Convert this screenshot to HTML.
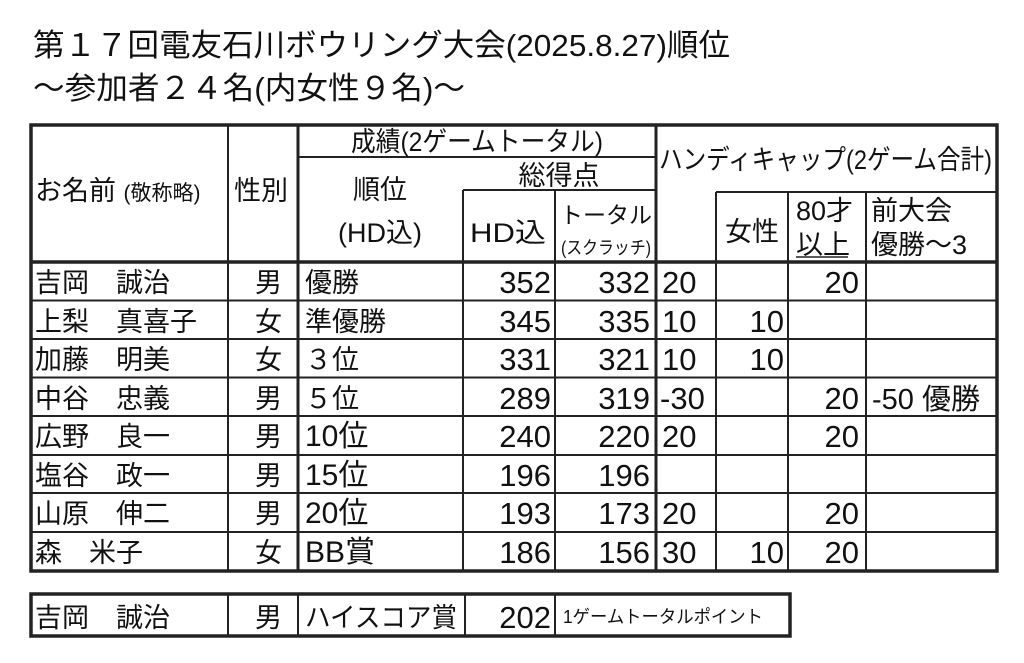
<!DOCTYPE html>
<html><head><meta charset="utf-8"><style>
html,body{margin:0;padding:0;background:#fff;}
svg{display:block}
text{font-family:"Liberation Sans","Noto Sans CJK JP",sans-serif;fill:#111;}
</style></head><body>
<svg width="1024" height="663" viewBox="0 0 1024 663" xmlns="http://www.w3.org/2000/svg">
<rect width="1024" height="663" fill="#fff"/>
<text x="33" y="56" font-size="31" textLength="697" lengthAdjust="spacingAndGlyphs">第１７回電友石川ボウリング大会(2025.8.27)順位</text>
<text x="33" y="99" font-size="31" textLength="432" lengthAdjust="spacingAndGlyphs">～参加者２４名(内女性９名)～</text>

<g stroke="#222" fill="none">
<rect x="31" y="125" width="966" height="446" stroke-width="3.5"/>
<line x1="228" y1="125" x2="228" y2="571" stroke-width="2"/>
<line x1="298" y1="125" x2="298" y2="571" stroke-width="3"/>
<line x1="463" y1="190" x2="463" y2="571" stroke-width="2"/>
<line x1="555" y1="190" x2="555" y2="571" stroke-width="2"/>
<line x1="656" y1="125" x2="656" y2="571" stroke-width="3"/>
<line x1="716" y1="192" x2="716" y2="571" stroke-width="2"/>
<line x1="788" y1="192" x2="788" y2="571" stroke-width="2"/>
<line x1="866" y1="192" x2="866" y2="571" stroke-width="2"/>
<line x1="298" y1="157" x2="656" y2="157" stroke-width="2"/>
<line x1="463" y1="190" x2="656" y2="190" stroke-width="2"/>
<line x1="716" y1="192" x2="997" y2="192" stroke-width="2"/>
<line x1="31" y1="262" x2="997" y2="262" stroke-width="3.5"/>
<line x1="31" y1="300.5" x2="997" y2="300.5" stroke-width="2"/>
<line x1="31" y1="339" x2="997" y2="339" stroke-width="2"/>
<line x1="31" y1="377.5" x2="997" y2="377.5" stroke-width="2"/>
<line x1="31" y1="416" x2="997" y2="416" stroke-width="2"/>
<line x1="31" y1="455" x2="997" y2="455" stroke-width="2"/>
<line x1="31" y1="493" x2="997" y2="493" stroke-width="2"/>
<line x1="31" y1="532" x2="997" y2="532" stroke-width="2"/>
<rect x="31" y="594" width="759" height="42" stroke-width="3.5"/>
<line x1="228" y1="594" x2="228" y2="636" stroke-width="2"/>
<line x1="298" y1="594" x2="298" y2="636" stroke-width="2"/>
<line x1="465" y1="594" x2="465" y2="636" stroke-width="2"/>
<line x1="555" y1="594" x2="555" y2="636" stroke-width="2"/>
<line x1="796" y1="257" x2="848" y2="257" stroke-width="1.5"/>
</g>

<g font-size="27">
<text x="35" y="200">お名前 <tspan font-size="21">(敬称略)</tspan></text>
<text x="234" y="200">性別</text>
<text x="380" y="199" text-anchor="middle">順位</text>
<text x="380" y="242" text-anchor="middle">(HD込)</text>
<text x="477" y="151" text-anchor="middle" textLength="252" lengthAdjust="spacingAndGlyphs">成績(2ゲームトータル)</text>
<text x="559" y="185" text-anchor="middle">総得点</text>
<text x="470" y="242" textLength="76" lengthAdjust="spacingAndGlyphs">HD込</text>
<text x="606" y="223" text-anchor="middle" font-size="23">トータル</text>
<text x="606" y="254" text-anchor="middle" font-size="18" textLength="90" lengthAdjust="spacingAndGlyphs">(スクラッチ)</text>
<text x="659" y="169" textLength="333" lengthAdjust="spacingAndGlyphs">ハンディキャップ(2ゲーム合計)</text>
<text x="752" y="241" text-anchor="middle">女性</text>
<text x="796" y="220">80才</text>
<text x="796" y="254">以上</text>
<text x="871" y="220">前大会</text>
<text x="871" y="254">優勝～3</text>
</g>

<g font-size="27">
<text x="35" y="292">吉岡　誠治</text><text x="255" y="292">男</text><text x="305" y="292">優勝</text>
<text x="35" y="331">上梨　真喜子</text><text x="255" y="331">女</text><text x="305" y="331">準優勝</text>
<text x="35" y="369">加藤　明美</text><text x="255" y="369">女</text><text x="305" y="369">３位</text>
<text x="35" y="408">中谷　忠義</text><text x="255" y="408">男</text><text x="305" y="408">５位</text>
<text x="35" y="446">広野　良一</text><text x="255" y="446">男</text><text x="305" y="446" font-size="30">10位</text>
<text x="35" y="485">塩谷　政一</text><text x="255" y="485">男</text><text x="305" y="485" font-size="30">15位</text>
<text x="35" y="523">山原　伸二</text><text x="255" y="523">男</text><text x="305" y="523" font-size="30">20位</text>
<text x="35" y="562">森　米子</text><text x="255" y="562">女</text><text x="305" y="562" font-size="30">BB賞</text>
<text x="35" y="627">吉岡　誠治</text><text x="255" y="627">男</text>
<text x="305" y="627" textLength="152" lengthAdjust="spacingAndGlyphs">ハイスコア賞</text>
</g>

<g font-size="31">
<text x="551" y="293" text-anchor="end">352</text><text x="650" y="293" text-anchor="end">332</text>
<text x="662" y="293">20</text><text x="859" y="293" text-anchor="end">20</text>
<text x="551" y="332" text-anchor="end">345</text><text x="650" y="332" text-anchor="end">335</text>
<text x="662" y="332">10</text><text x="784" y="332" text-anchor="end">10</text>
<text x="551" y="370" text-anchor="end">331</text><text x="650" y="370" text-anchor="end">321</text>
<text x="662" y="370">10</text><text x="784" y="370" text-anchor="end">10</text>
<text x="551" y="409" text-anchor="end">289</text><text x="650" y="409" text-anchor="end">319</text>
<text x="660" y="409">-30</text><text x="859" y="409" text-anchor="end">20</text>
<text x="872" y="409" font-size="29">-50 優勝</text>
<text x="551" y="447" text-anchor="end">240</text><text x="650" y="447" text-anchor="end">220</text>
<text x="662" y="447">20</text><text x="859" y="447" text-anchor="end">20</text>
<text x="551" y="486" text-anchor="end">196</text><text x="650" y="486" text-anchor="end">196</text>
<text x="551" y="524" text-anchor="end">193</text><text x="650" y="524" text-anchor="end">173</text>
<text x="662" y="524">20</text><text x="859" y="524" text-anchor="end">20</text>
<text x="551" y="563" text-anchor="end">186</text><text x="650" y="563" text-anchor="end">156</text>
<text x="662" y="563">30</text><text x="784" y="563" text-anchor="end">10</text><text x="859" y="563" text-anchor="end">20</text>
<text x="551" y="628" text-anchor="end">202</text>
</g>
<text x="563" y="623" font-size="18" textLength="200" lengthAdjust="spacingAndGlyphs">1ゲームトータルポイント</text>
</svg>
</body></html>
